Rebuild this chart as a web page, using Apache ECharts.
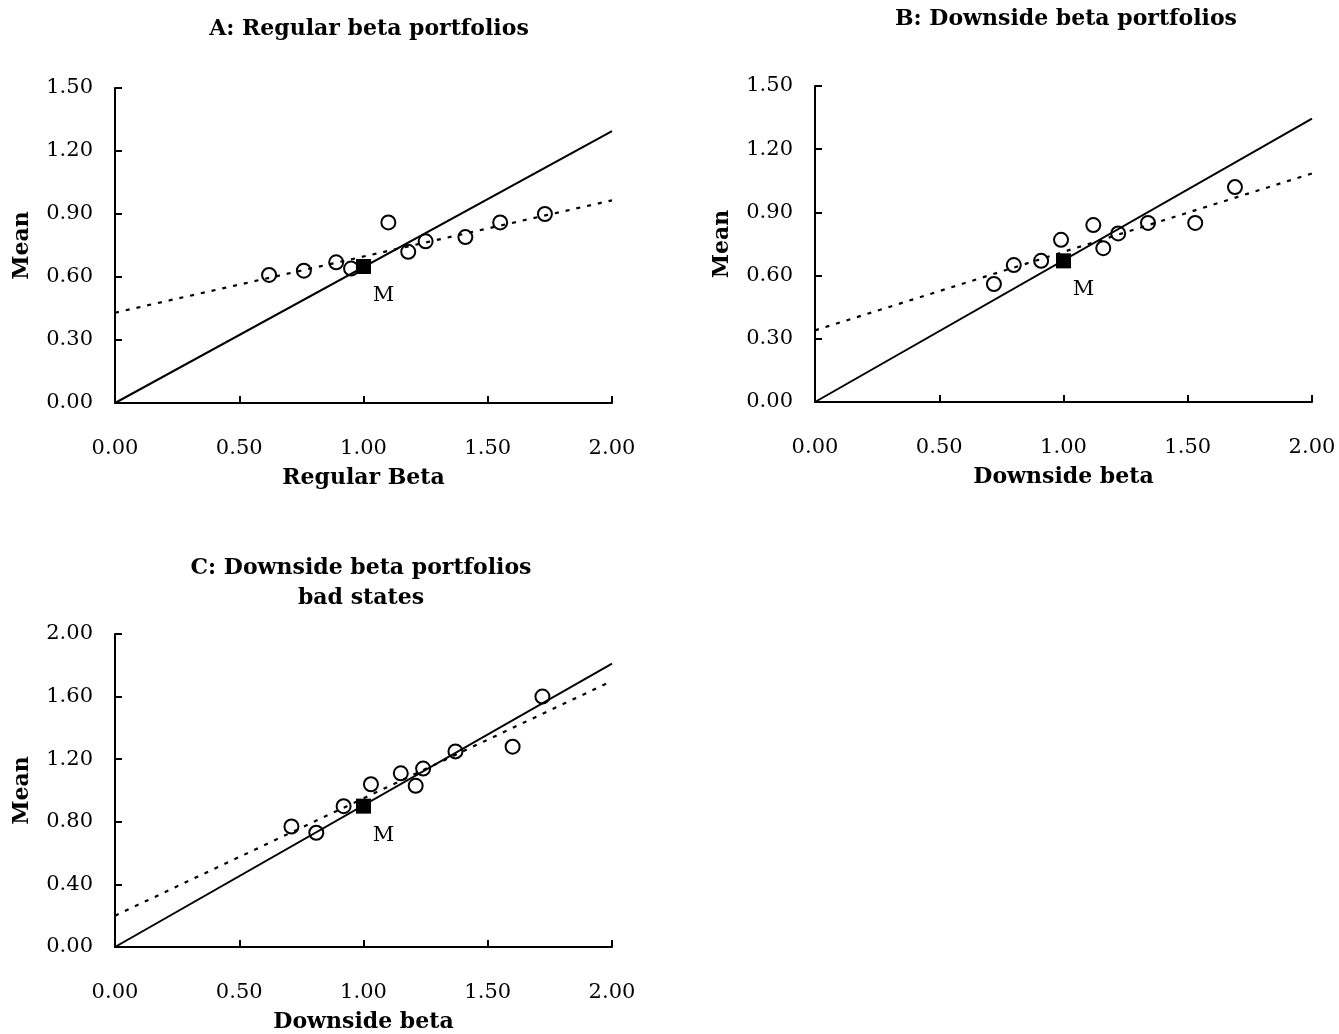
<!DOCTYPE html>
<html>
<head>
<meta charset="utf-8">
<script src="https://cdn.jsdelivr.net/npm/echarts@6/dist/echarts.min.js"></script>
<style>
html,body{margin:0;padding:0;background:#fff;}
#chart{width:1339px;height:1034px;}
</style>
</head>
<body>
<div id="chart"></div>
<script>
// ---- Data ----
const xTicks = [0, 0.5, 1.0, 1.5, 2.0];

// Panel A: Regular beta portfolios
const aBeta = [0.62, 0.76, 0.89, 0.95, 1.10, 1.18, 1.25, 1.41, 1.55, 1.73];
const aMean = [0.61, 0.63, 0.67, 0.64, 0.86, 0.72, 0.77, 0.79, 0.86, 0.90];
const aMarket = [1.00, 0.65];
const aSML = [[0, 0], [2.0, 1.295]];
const aFit = [[0, 0.43], [2.0, 0.965]];

// Panel B: Downside beta portfolios
const bBeta = [0.72, 0.80, 0.91, 0.99, 1.12, 1.16, 1.22, 1.34, 1.53, 1.69];
const bMean = [0.56, 0.65, 0.67, 0.77, 0.84, 0.73, 0.80, 0.85, 0.85, 1.02];
const bMarket = [1.00, 0.67];
const bSML = [[0, 0], [2.0, 1.345]];
const bFit = [[0, 0.34], [2.0, 1.085]];

// Panel C: Downside beta portfolios, bad states
const cBeta = [0.71, 0.81, 0.92, 1.03, 1.15, 1.21, 1.24, 1.37, 1.60, 1.72];
const cMean = [0.77, 0.73, 0.90, 1.04, 1.11, 1.03, 1.14, 1.25, 1.28, 1.60];
const cMarket = [1.00, 0.90];
const cSML = [[0, 0], [2.0, 1.81]];
const cFit = [[0, 0.20], [2.0, 1.70]];

const titles = ['A: Regular beta portfolios', 'B: Downside beta portfolios', 'C: Downside beta portfolios\nbad states'];
const xNames = ['Regular Beta', 'Downside beta', 'Downside beta'];
const yName = 'Mean';

// ---- Styling ----
const FONT = 'DejaVu Serif';
const zip = (xs, ys) => xs.map((x, i) => [x, ys[i]]);

const grids = [
  {left: 115, top: 88, width: 497, height: 315},
  {left: 815, top: 86, width: 497, height: 316},
  {left: 115, top: 634, width: 497, height: 314}
];
const yRanges = [
  {max: 1.5, interval: 0.3},
  {max: 1.5, interval: 0.3},
  {max: 2.0, interval: 0.4}
];

const axisLine = {show: true, onZero: false, lineStyle: {color: '#000', width: 2}};
const axisTick = {show: true, inside: true, length: 7, lineStyle: {color: '#000', width: 2}};
const labelStyle = {color: '#000', fontFamily: FONT, fontSize: 21};
const nameStyle = {color: '#000', fontFamily: FONT, fontSize: 22, fontWeight: 'bold'};

const xAxes = grids.map((g, i) => ({
  type: 'value', gridIndex: i, min: 0, max: 2, interval: 0.5,
  axisLine, axisTick, splitLine: {show: false},
  axisLabel: Object.assign({margin: 35, formatter: v => v.toFixed(2)}, labelStyle),
  name: xNames[i], nameLocation: 'middle', nameGap: 64, nameTextStyle: nameStyle
}));
const yAxes = grids.map((g, i) => ({
  type: 'value', gridIndex: i, min: 0, max: yRanges[i].max, interval: yRanges[i].interval,
  axisLine, axisTick, splitLine: {show: false},
  axisLabel: Object.assign({margin: 22, formatter: v => v.toFixed(2)}, labelStyle),
  name: yName, nameLocation: 'middle', nameGap: 82, nameRotate: 90, nameTextStyle: nameStyle
}));

const panels = [
  {beta: aBeta, mean: aMean, m: aMarket, sml: aSML, fit: aFit},
  {beta: bBeta, mean: bMean, m: bMarket, sml: bSML, fit: bFit},
  {beta: cBeta, mean: cMean, m: cMarket, sml: cSML, fit: cFit}
];

const series = [];
panels.forEach((p, i) => {
  series.push({
    type: 'line', xAxisIndex: i, yAxisIndex: i, data: p.sml, symbol: 'none',
    lineStyle: {color: '#000', width: 2}, silent: true, z: 2
  });
  series.push({
    type: 'line', xAxisIndex: i, yAxisIndex: i, data: p.fit, symbol: 'none',
    lineStyle: {color: '#000', width: 2.2, type: [4, 7]}, silent: true, z: 2
  });
  series.push({
    type: 'scatter', xAxisIndex: i, yAxisIndex: i, data: zip(p.beta, p.mean),
    symbol: 'circle', symbolSize: 14,
    itemStyle: {color: 'rgba(255,255,255,0)', borderColor: '#000', borderWidth: 2, opacity: 1}, z: 3
  });
  series.push({
    type: 'scatter', xAxisIndex: i, yAxisIndex: i, data: [p.m],
    symbol: 'rect', symbolSize: 15,
    itemStyle: {color: '#000', opacity: 1}, z: 4,
    label: {show: true, position: 'inside', offset: [20, 29], formatter: 'M',
            color: '#000', opacity: 1, fontFamily: FONT, fontSize: 21}
  });
});

const titleStyle = {color: '#000', fontFamily: FONT, fontSize: 22, fontWeight: 'bold', lineHeight: 30, align: 'center'};
const option = {
  animation: false,
  backgroundColor: '#fff',
  title: [
    {text: titles[0], left: 369, top: 14, padding: 0, textAlign: 'center', textStyle: titleStyle},
    {text: titles[1], left: 1066, top: 4, padding: 0, textAlign: 'center', textStyle: titleStyle},
    {text: titles[2], left: 361, top: 553, padding: 0, textAlign: 'center', textStyle: titleStyle}
  ],
  grid: grids,
  xAxis: xAxes,
  yAxis: yAxes,
  series
};

const chart = echarts.init(document.getElementById('chart'), null, {renderer: 'canvas'});
chart.setOption(option);
</script>
</body>
</html>
